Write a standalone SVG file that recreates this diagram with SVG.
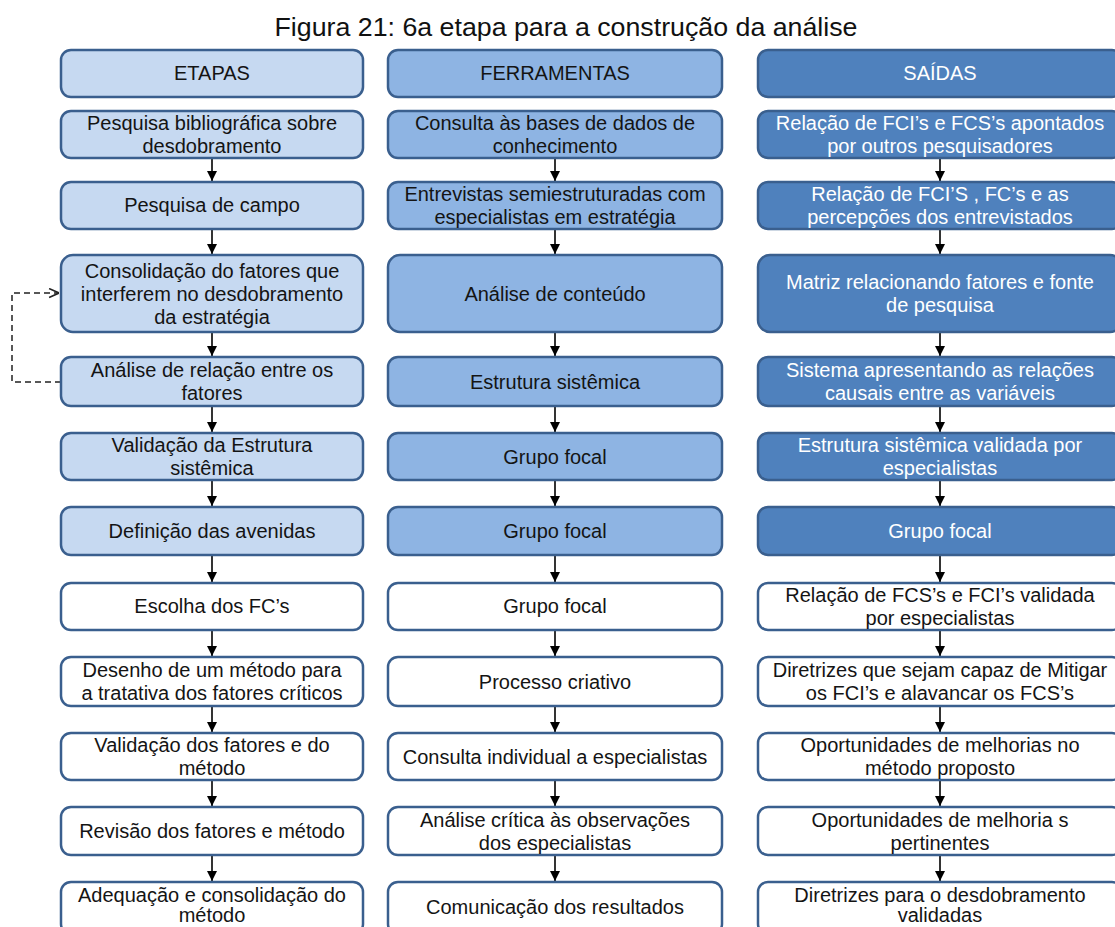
<svg xmlns="http://www.w3.org/2000/svg" width="1115" height="927" viewBox="0 0 1115 927">
  <style>
    .box { stroke: #3a5f8e; stroke-width: 2.5; }
    .c1 { fill: #c6d9f1; }
    .c2 { fill: #8eb4e3; }
    .c3 { fill: #4f81bd; }
    .w { fill: #ffffff; }
    text { font-family: "Liberation Sans", Arial, sans-serif; font-size: 20px; text-anchor: middle; fill: #141414; }
    text.light { fill: #ffffff; }
    .title { font-size: 25px; fill: #111111; }
    .link { stroke: #000000; stroke-width: 1.6; fill: none; marker-end: url(#arrow); }
    .loop { stroke: #222222; stroke-width: 1.5; fill: none; stroke-dasharray: 6 4; marker-end: url(#open); }
  </style>
  <defs>
    <marker id="arrow" viewBox="0 0 10 10" refX="10" refY="5" markerWidth="10" markerHeight="10" markerUnits="userSpaceOnUse" orient="auto">
      <path d="M0,0 L10,5 L0,10 z" fill="#000000"/>
    </marker>
    <marker id="open" viewBox="0 0 10 10" refX="10" refY="5" markerWidth="11" markerHeight="11" markerUnits="userSpaceOnUse" orient="auto">
      <path d="M1,1 L10,5 L1,9" fill="none" stroke="#222222" stroke-width="1.5"/>
    </marker>
  </defs>

  <text class="title" x="566" y="36" textLength="583" lengthAdjust="spacingAndGlyphs">Figura 21: 6a etapa para a construção da análise</text>

  <!-- connectors -->
  <g id="connectors">
    <!-- column 1 -->
    <line class="link" x1="212" y1="159" x2="212" y2="181"/>
    <line class="link" x1="212" y1="230" x2="212" y2="254"/>
    <line class="link" x1="212" y1="333" x2="212" y2="356"/>
    <line class="link" x1="212" y1="407" x2="212" y2="432"/>
    <line class="link" x1="212" y1="481" x2="212" y2="506"/>
    <line class="link" x1="212" y1="556" x2="212" y2="582"/>
    <line class="link" x1="212" y1="631" x2="212" y2="656"/>
    <line class="link" x1="212" y1="707" x2="212" y2="732"/>
    <line class="link" x1="212" y1="781" x2="212" y2="806"/>
    <line class="link" x1="212" y1="856" x2="212" y2="881"/>
    <!-- column 2 -->
    <line class="link" x1="555" y1="159" x2="555" y2="181"/>
    <line class="link" x1="555" y1="230" x2="555" y2="254"/>
    <line class="link" x1="555" y1="333" x2="555" y2="356"/>
    <line class="link" x1="555" y1="407" x2="555" y2="432"/>
    <line class="link" x1="555" y1="481" x2="555" y2="506"/>
    <line class="link" x1="555" y1="556" x2="555" y2="582"/>
    <line class="link" x1="555" y1="631" x2="555" y2="656"/>
    <line class="link" x1="555" y1="707" x2="555" y2="732"/>
    <line class="link" x1="555" y1="781" x2="555" y2="806"/>
    <line class="link" x1="555" y1="856" x2="555" y2="881"/>
    <!-- column 3 -->
    <line class="link" x1="940" y1="159" x2="940" y2="181"/>
    <line class="link" x1="940" y1="230" x2="940" y2="254"/>
    <line class="link" x1="940" y1="333" x2="940" y2="356"/>
    <line class="link" x1="940" y1="407" x2="940" y2="432"/>
    <line class="link" x1="940" y1="481" x2="940" y2="506"/>
    <line class="link" x1="940" y1="556" x2="940" y2="582"/>
    <line class="link" x1="940" y1="631" x2="940" y2="656"/>
    <line class="link" x1="940" y1="707" x2="940" y2="732"/>
    <line class="link" x1="940" y1="781" x2="940" y2="806"/>
    <line class="link" x1="940" y1="856" x2="940" y2="881"/>
    <!-- feedback loop -->
    <path class="loop" d="M61,382 H12 V293 H59"/>
  </g>

  <!-- ETAPAS column -->
  <g id="etapas-head"><rect class="box c1" x="61" y="50" width="302" height="47" rx="10"/><text x="212" y="80">ETAPAS</text></g>
  <g id="etapa-1"><rect class="box c1" x="61" y="111" width="302" height="47" rx="10"/><text x="212" y="130">Pesquisa bibliográfica sobre</text><text x="212" y="153">desdobramento</text></g>
  <g id="etapa-2"><rect class="box c1" x="61" y="182" width="302" height="47" rx="10"/><text x="212" y="212">Pesquisa de campo</text></g>
  <g id="etapa-3"><rect class="box c1" x="61" y="255" width="302" height="77" rx="12"/><text x="212" y="278">Consolidação do fatores que</text><text x="212" y="301">interferem no desdobramento</text><text x="212" y="324">da estratégia</text></g>
  <g id="etapa-4"><rect class="box c1" x="61" y="357" width="302" height="49" rx="10"/><text x="212" y="377">Análise de relação entre os</text><text x="212" y="400">fatores</text></g>
  <g id="etapa-5"><rect class="box c1" x="61" y="433" width="302" height="47" rx="10"/><text x="212" y="452">Validação da Estrutura</text><text x="212" y="475">sistêmica</text></g>
  <g id="etapa-6"><rect class="box c1" x="61" y="507" width="302" height="48" rx="10"/><text x="212" y="538">Definição das avenidas</text></g>
  <g id="etapa-7"><rect class="box w" x="61" y="583" width="302" height="47" rx="10"/><text x="212" y="613">Escolha dos FC’s</text></g>
  <g id="etapa-8"><rect class="box w" x="61" y="657" width="302" height="49" rx="10"/><text x="212" y="677">Desenho de um método para</text><text x="212" y="700">a tratativa dos fatores críticos</text></g>
  <g id="etapa-9"><rect class="box w" x="61" y="733" width="302" height="47" rx="10"/><text x="212" y="752">Validação dos fatores e do</text><text x="212" y="775">método</text></g>
  <g id="etapa-10"><rect class="box w" x="61" y="807" width="302" height="48" rx="10"/><text x="212" y="838">Revisão dos fatores e método</text></g>
  <g id="etapa-11"><rect class="box w" x="61" y="882" width="302" height="52" rx="10"/><text x="212" y="902">Adequação e consolidação do</text><text x="212" y="922">método</text></g>

  <!-- FERRAMENTAS column -->
  <g id="ferramentas-head"><rect class="box c2" x="388" y="50" width="334" height="47" rx="10"/><text x="555" y="80">FERRAMENTAS</text></g>
  <g id="ferramenta-1"><rect class="box c2" x="388" y="111" width="334" height="47" rx="10"/><text x="555" y="130">Consulta às bases de dados de</text><text x="555" y="153">conhecimento</text></g>
  <g id="ferramenta-2"><rect class="box c2" x="388" y="182" width="334" height="47" rx="10"/><text x="555" y="201">Entrevistas semiestruturadas com</text><text x="555" y="224">especialistas em estratégia</text></g>
  <g id="ferramenta-3"><rect class="box c2" x="388" y="255" width="334" height="77" rx="12"/><text x="555" y="301">Análise de conteúdo</text></g>
  <g id="ferramenta-4"><rect class="box c2" x="388" y="357" width="334" height="49" rx="10"/><text x="555" y="389">Estrutura sistêmica</text></g>
  <g id="ferramenta-5"><rect class="box c2" x="388" y="433" width="334" height="47" rx="10"/><text x="555" y="464">Grupo focal</text></g>
  <g id="ferramenta-6"><rect class="box c2" x="388" y="507" width="334" height="48" rx="10"/><text x="555" y="538">Grupo focal</text></g>
  <g id="ferramenta-7"><rect class="box w" x="388" y="583" width="334" height="47" rx="10"/><text x="555" y="613">Grupo focal</text></g>
  <g id="ferramenta-8"><rect class="box w" x="388" y="657" width="334" height="49" rx="10"/><text x="555" y="689">Processo criativo</text></g>
  <g id="ferramenta-9"><rect class="box w" x="388" y="733" width="334" height="47" rx="10"/><text x="555" y="764">Consulta individual a especialistas</text></g>
  <g id="ferramenta-10"><rect class="box w" x="388" y="807" width="334" height="48" rx="10"/><text x="555" y="827">Análise crítica às observações</text><text x="555" y="850">dos especialistas</text></g>
  <g id="ferramenta-11"><rect class="box w" x="388" y="882" width="334" height="52" rx="10"/><text x="555" y="914">Comunicação dos resultados</text></g>

  <!-- SAÍDAS column -->
  <g id="saidas-head"><rect class="box c3" x="758" y="50" width="364" height="47" rx="10"/><text class="light" x="940" y="80">SAÍDAS</text></g>
  <g id="saida-1"><rect class="box c3" x="758" y="111" width="364" height="47" rx="10"/><text class="light" x="940" y="130">Relação de FCI’s e FCS’s apontados</text><text class="light" x="940" y="153">por outros pesquisadores</text></g>
  <g id="saida-2"><rect class="box c3" x="758" y="182" width="364" height="47" rx="10"/><text class="light" x="940" y="201">Relação de FCI’S , FC’s e as</text><text class="light" x="940" y="224">percepções dos entrevistados</text></g>
  <g id="saida-3"><rect class="box c3" x="758" y="255" width="364" height="77" rx="12"/><text class="light" x="940" y="289">Matriz relacionando fatores e fonte</text><text class="light" x="940" y="312">de pesquisa</text></g>
  <g id="saida-4"><rect class="box c3" x="758" y="357" width="364" height="49" rx="10"/><text class="light" x="940" y="377">Sistema apresentando as relações</text><text class="light" x="940" y="400">causais entre as variáveis</text></g>
  <g id="saida-5"><rect class="box c3" x="758" y="433" width="364" height="47" rx="10"/><text class="light" x="940" y="452">Estrutura sistêmica validada por</text><text class="light" x="940" y="475">especialistas</text></g>
  <g id="saida-6"><rect class="box c3" x="758" y="507" width="364" height="48" rx="10"/><text class="light" x="940" y="538">Grupo focal</text></g>
  <g id="saida-7"><rect class="box w" x="758" y="583" width="364" height="47" rx="10"/><text x="940" y="602">Relação de FCS’s e FCI’s validada</text><text x="940" y="625">por especialistas</text></g>
  <g id="saida-8"><rect class="box w" x="758" y="657" width="364" height="49" rx="10"/><text x="940" y="677">Diretrizes que sejam capaz de Mitigar</text><text x="940" y="700">os FCI’s e alavancar os FCS’s</text></g>
  <g id="saida-9"><rect class="box w" x="758" y="733" width="364" height="47" rx="10"/><text x="940" y="752">Oportunidades de melhorias no</text><text x="940" y="775">método proposto</text></g>
  <g id="saida-10"><rect class="box w" x="758" y="807" width="364" height="48" rx="10"/><text x="940" y="827">Oportunidades de melhoria s</text><text x="940" y="850">pertinentes</text></g>
  <g id="saida-11"><rect class="box w" x="758" y="882" width="364" height="52" rx="10"/><text x="940" y="902">Diretrizes para o desdobramento</text><text x="940" y="922">validadas</text></g>
</svg>
